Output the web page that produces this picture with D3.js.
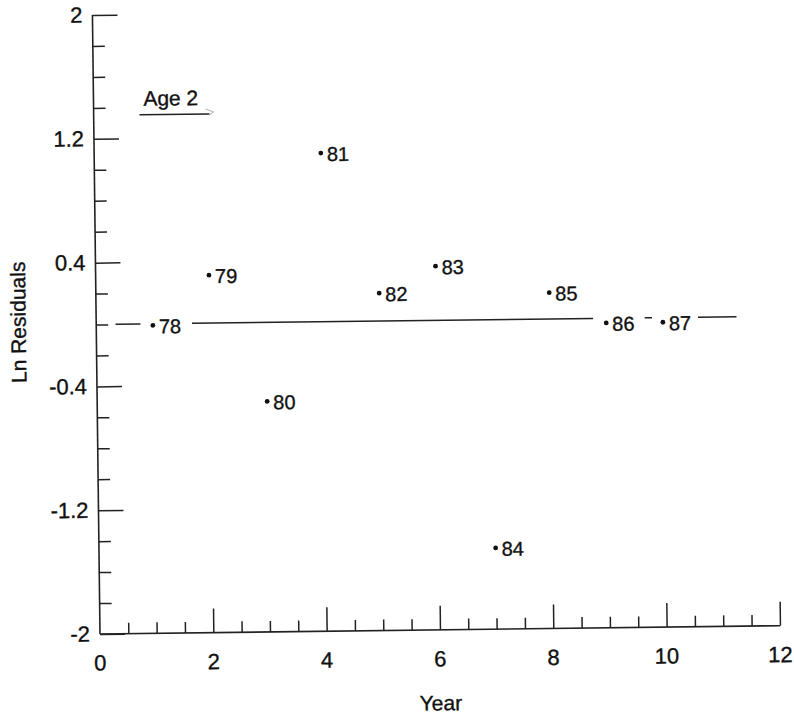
<!DOCTYPE html>
<html>
<head>
<meta charset="utf-8">
<script src="https://cdn.jsdelivr.net/npm/d3@7"></script>
<style>
  body { margin: 0; background: #fff; }
  svg { display: block; }
  text { font-family: "Liberation Sans", Arial, sans-serif; fill: #111; stroke: #111; stroke-width: 0.35px; }
</style>
</head>
<body>
<svg id="chart" width="794" height="725"></svg>
<script>
// residuals by year
var years = [1, 2, 3, 4, 5, 6, 7, 8, 9, 10];
var yearLabels = ["78", "79", "80", "81", "82", "83", "84", "85", "86", "87"];
var residuals = [-0.01, 0.31, -0.51, 1.09, 0.18, 0.35, -1.475, 0.17, -0.03, -0.03];

// zero line is broken where the labels sit
var zeroSegments = [[0.34, 0.78], [1.69, 8.77], [9.68, 9.81], [10.62, 11.3]];

var xMajor = [0, 2, 4, 6, 8, 10, 12];
var yMajor = [-2, -1.2, -0.4, 0.4, 1.2, 2];
var yMajorLabels = ["-2", "-1.2", "-0.4", "0.4", "1.2", "2"];

var svg = d3.select("#chart");

var x = d3.scaleLinear().domain([0, 12]).range([100, 780]);
var y = d3.scaleLinear().domain([-2, 2]).range([634, 15]);

// the scanned page is a little bit tilted
var G = svg.append("g")
    .attr("transform", "rotate(-0.7," + x(0) + "," + y(-2) + ")");

var xMinor = d3.range(0.5, 12, 0.5).filter(function(d){ return d % 2 !== 0; });
var yMinor = d3.range(-1.8, 2, 0.2).filter(function(d){
    return !yMajor.some(function(m){ return Math.abs(m - d) < 1e-6; });
});

// axis lines
G.append("line")
    .attr("x1", x(0)).attr("x2", x(0))
    .attr("y1", y(-2)).attr("y2", y(2))
    .attr("stroke", "#222").attr("stroke-width", 1.6);
G.append("line")
    .attr("x1", x(0)).attr("x2", x(12))
    .attr("y1", y(-2)).attr("y2", y(-2))
    .attr("stroke", "#222").attr("stroke-width", 1.6);

// ticks point into the plot
var yTicksMinor = G.append("g")
    .attr("transform", "translate(" + x(0) + ",0)")
    .call(d3.axisLeft(y).tickValues(yMinor).tickSizeInner(-12).tickSizeOuter(0).tickFormat(""));
var yTicksMajor = G.append("g")
    .attr("transform", "translate(" + x(0) + ",0)")
    .call(d3.axisLeft(y).tickValues(yMajor).tickSizeInner(-25).tickSizeOuter(0).tickFormat(""));
var xTicksMinor = G.append("g")
    .attr("transform", "translate(0," + y(-2) + ")")
    .call(d3.axisBottom(x).tickValues(xMinor).tickSizeInner(-11).tickSizeOuter(0).tickFormat(""));
var xTicksMajor = G.append("g")
    .attr("transform", "translate(0," + y(-2) + ")")
    .call(d3.axisBottom(x).tickValues(xMajor.slice(1)).tickSizeInner(-24).tickSizeOuter(0).tickFormat(""));

[yTicksMinor, yTicksMajor, xTicksMinor, xTicksMajor].forEach(function(a){
    a.select(".domain").remove();
    a.selectAll("line").attr("stroke", "#222").attr("stroke-width", 1.5);
});

// tick labels
G.append("g").selectAll("text")
    .data(yMajor)
    .enter().append("text")
    .attr("x", x(0) - 10)
    .attr("y", function(d){ return y(d); })
    .attr("text-anchor", "end")
    .attr("dominant-baseline", "central")
    .style("font-size", "22px")
    .text(function(d, i){ return yMajorLabels[i]; });

G.append("g").selectAll("text")
    .data(xMajor)
    .enter().append("text")
    .attr("x", function(d){ return x(d); })
    .attr("y", y(-2) + 29)
    .attr("text-anchor", "middle")
    .attr("dominant-baseline", "central")
    .style("font-size", "22px")
    .text(function(d){ return d; });

// axis titles
G.append("text")
    .attr("transform", "translate(22," + y(0.02) + ") rotate(-90)")
    .attr("text-anchor", "middle")
    .attr("dominant-baseline", "central")
    .style("font-size", "21px")
    .text("Ln Residuals");

G.append("text")
    .attr("x", 440)
    .attr("y", 707)
    .attr("text-anchor", "middle")
    .attr("dominant-baseline", "central")
    .style("font-size", "21px")
    .text("Year");

// zero reference line
G.append("g").selectAll("line")
    .data(zeroSegments)
    .enter().append("line")
    .attr("x1", function(d){ return x(d[0]); })
    .attr("x2", function(d){ return x(d[1]); })
    .attr("y1", y(0)).attr("y2", y(0))
    .attr("stroke", "#222").attr("stroke-width", 1.5);

// points + year labels
var pts = G.append("g").selectAll("g")
    .data(years)
    .enter().append("g")
    .attr("transform", function(d, i){ return "translate(" + x(d) + "," + y(residuals[i]) + ")"; });

pts.append("circle")
    .attr("r", 2.4)
    .attr("fill", "#111");

pts.append("text")
    .attr("x", 6)
    .attr("dy", "0.05em")
    .attr("dominant-baseline", "central")
    .style("font-size", "20px")
    .text(function(d, i){ return yearLabels[i]; });

// "Age 2" caption
var cap = G.append("g")
    .attr("transform", "translate(" + x(0.88) + "," + y(1.41) + ")");
cap.append("text")
    .attr("x", 0)
    .attr("y", 0)
    .style("font-size", "21px")
    .text("Age 2");
cap.append("line")
    .attr("x1", -4).attr("x2", 66)
    .attr("y1", 9).attr("y2", 9)
    .attr("stroke", "#222").attr("stroke-width", 1.5);
cap.append("path")
    .attr("d", "M62,4 L70,7 L66,10")
    .attr("fill", "none")
    .attr("stroke", "#999").attr("stroke-width", 0.8);
</script>
</body>
</html>
